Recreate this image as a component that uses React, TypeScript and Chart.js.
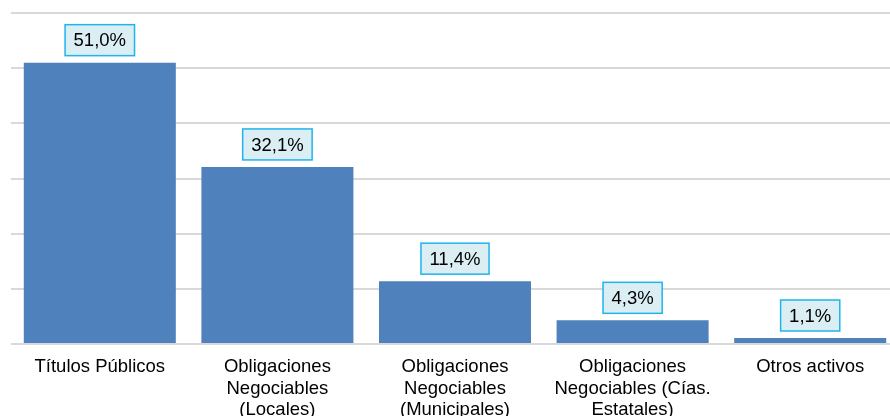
import React, { useEffect, useRef } from "react";
import { Chart, registerables } from "chart.js";

Chart.register(...registerables);

const categories: string[][] = [
  ["Títulos Públicos"],
  ["Obligaciones", "Negociables", "(Locales)"],
  ["Obligaciones", "Negociables", "(Municipales)"],
  ["Obligaciones", "Negociables (Cías.", "Estatales)"],
  ["Otros activos"],
];
const values: number[] = [51.0, 32.1, 11.4, 4.3, 1.1];
const valueLabels: string[] = ["51,0%", "32,1%", "11,4%", "4,3%", "1,1%"];

const FONT = "'Liberation Sans', Arial, sans-serif";

const labelBoxPlugin = {
  id: "labelBox",
  afterDatasetsDraw(chart: any) {
    const ctx = chart.ctx;
    const meta = chart.getDatasetMeta(0);
    ctx.save();
    ctx.font = "18.5px " + FONT;
    ctx.textAlign = "center";
    ctx.textBaseline = "middle";
    meta.data.forEach((el: any, i: number) => {
      const text = valueLabels[i];
      const w = ctx.measureText(text).width + 17;
      const h = 31;
      const bottom = el.y - 7;
      const left = el.x - w / 2;
      ctx.fillStyle = "#DAEEF3";
      ctx.fillRect(left, bottom - h, w, h);
      ctx.strokeStyle = "#1FB4EE";
      ctx.lineWidth = 1.5;
      ctx.strokeRect(left, bottom - h, w, h);
      ctx.fillStyle = "#000000";
      ctx.fillText(text, el.x, bottom - h / 2 + 1);
    });
    ctx.restore();
  },
};

export default function App() {
  const ref = useRef<HTMLCanvasElement | null>(null);
  useEffect(() => {
    document.body.style.margin = "0";
    document.body.style.overflow = "hidden";
    if (!ref.current) return;
    const chart = new Chart(ref.current, {
      type: "bar",
      data: {
        labels: categories,
        datasets: [
          {
            data: values,
            backgroundColor: "#4F81BD",
            barPercentage: 0.856,
            categoryPercentage: 1,
          },
        ],
      },
      options: {
        animation: false,
        responsive: false,
        layout: { padding: { top: 13, left: 11, right: 1, bottom: 0 } },
        plugins: {
          legend: { display: false },
          tooltip: { enabled: false },
        },
        scales: {
          x: {
            grid: { display: false },
            border: { display: false },
            ticks: {
              color: "#000000",
              padding: 4,
              maxRotation: 0,
              autoSkip: false,
              font: { family: FONT, size: 18.5, lineHeight: 1.17 },
            },
          },
          y: {
            min: 0,
            max: 60,
            ticks: { display: false, stepSize: 10 },
            border: { display: false },
            grid: { color: "#D9D9D9", lineWidth: 2, drawTicks: false },
          },
        },
      },
      plugins: [labelBoxPlugin],
    });
    return () => chart.destroy();
  }, []);
  return (
    <div style={{ width: 890, height: 416, overflow: "hidden", position: "relative" }}>
      <canvas ref={ref} width={900} height={425} style={{ display: "block" }} />
    </div>
  );
}
